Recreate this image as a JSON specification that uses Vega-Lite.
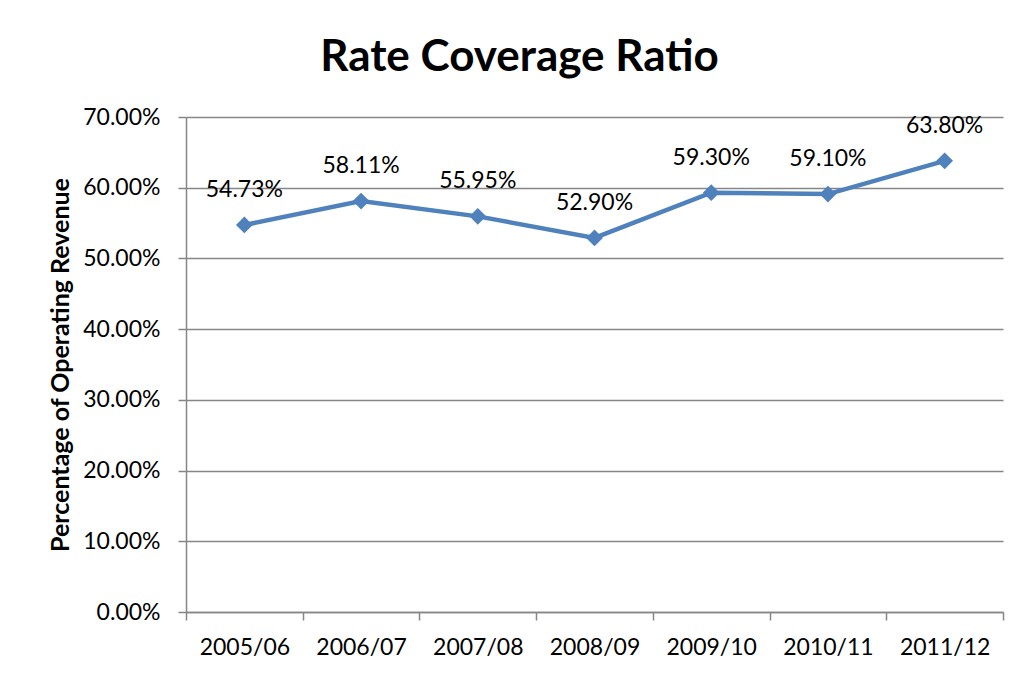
{
  "$schema": "https://vega.github.io/schema/vega-lite/v6.json",
  "width": 817,
  "height": 495,
  "autosize": {"type": "none"},
  "padding": {"left": 186, "top": 117, "right": 23, "bottom": 65},
  "background": "white",
  "title": {
    "text": "Rate Coverage Ratio",
    "font": "Lato",
    "fontSize": 44,
    "fontWeight": "bold",
    "color": "black",
    "anchor": "middle",
    "dx": -75,
    "offset": 26
  },
  "data": {
    "values": [
      {"year": "2005/06", "ratio": 0.5473},
      {"year": "2006/07", "ratio": 0.5811},
      {"year": "2007/08", "ratio": 0.5595},
      {"year": "2008/09", "ratio": 0.529},
      {"year": "2009/10", "ratio": 0.593},
      {"year": "2010/11", "ratio": 0.591},
      {"year": "2011/12", "ratio": 0.638}
    ]
  },
  "encoding": {
    "x": {
      "field": "year",
      "type": "nominal",
      "sort": null,
      "scale": {"type": "band", "paddingInner": 0, "paddingOuter": 0},
      "axis": {
        "title": null,
        "labelAngle": 0,
        "labelFont": "Lato",
        "labelFontSize": 23,
        "labelColor": "black",
        "labelPadding": 16,
        "tickBand": "extent",
        "tickSize": 8,
        "tickColor": "#868686",
        "tickWidth": 1.5,
        "domainColor": "#868686",
        "domainWidth": 1.5,
        "grid": false
      }
    },
    "y": {
      "field": "ratio",
      "type": "quantitative",
      "scale": {"domain": [0, 0.7], "nice": false, "zero": true},
      "axis": {
        "title": "Percentage of Operating Revenue",
        "titleFont": "Lato",
        "titleFontSize": 25,
        "titleFontWeight": "bold",
        "titleColor": "black",
        "titlePadding": 9,
        "format": ".2%",
        "values": [0, 0.1, 0.2, 0.3, 0.4, 0.5, 0.6, 0.7],
        "labelFont": "Lato",
        "labelFontSize": 23,
        "labelColor": "black",
        "labelPadding": 18,
        "tickSize": 8,
        "tickColor": "#868686",
        "tickWidth": 1.5,
        "domainColor": "#868686",
        "domainWidth": 1.5,
        "grid": true,
        "gridColor": "#868686",
        "gridWidth": 1.5
      }
    }
  },
  "layer": [
    {
      "mark": {"type": "line", "color": "#4F81BD", "strokeWidth": 4.5}
    },
    {
      "mark": {"type": "point", "shape": "diamond", "filled": true, "color": "#4F81BD", "size": 280, "opacity": 1}
    },
    {
      "mark": {"type": "text", "font": "Lato", "fontSize": 23, "color": "black", "dy": -35, "baseline": "middle"},
      "encoding": {
        "text": {"field": "ratio", "type": "quantitative", "format": ".2%"}
      }
    }
  ],
  "config": {
    "view": {"stroke": null}
  }
}
